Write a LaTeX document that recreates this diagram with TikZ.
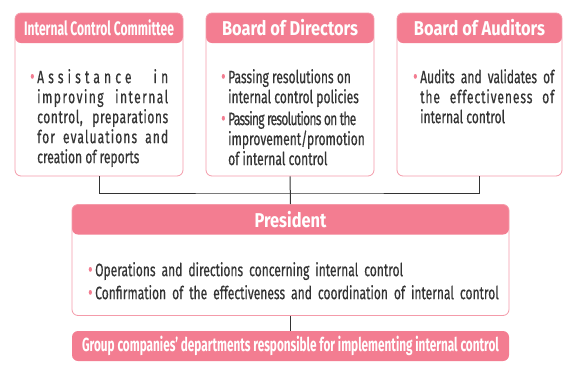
\documentclass[tikz,border=0pt]{standalone}
\usepackage{fontspec}
\setmainfont{Fira Sans}[FakeStretch=0.67, FakeBold=0.5]
\newfontfamily\hdrfont{Fira Sans}[FakeStretch=0.82]
\newfontfamily\narrowfont{Fira Sans}[FakeStretch=0.62]
\usetikzlibrary{positioning}
\definecolor{hdrpink}{RGB}{243,125,145}
\definecolor{linepink}{RGB}{244,155,170}
\definecolor{txtgrey}{RGB}{52,52,52}
\newcommand{\bul}[1]{\par\noindent\makebox[7pt][l]{\textcolor{hdrpink}{\fontsize{20}{14}\selectfont•}}%
  \parbox[t]{\dimexpr\linewidth-7pt\relax}{#1}\par}
\newcommand{\spaced}[2]{{\addfontfeature{LetterSpace=#1}#2}}
\tikzset{
  orgbox/.style={draw=linepink, fill=white, line width=0.8pt, rounded corners=6pt,
    path picture={\fill[hdrpink] (path picture bounding box.north west) rectangle ([yshift=-30pt]path picture bounding box.north east);}},
  hdr/.style={text=white, font=\hdrfont\fontsize{20}{22}\selectfont\bfseries, inner sep=0pt},
  body/.style={text=txtgrey, font=\fontsize{18}{20}\selectfont, inner sep=0pt, anchor=north west, align=justify},
  conn/.style={line width=1pt, draw=black!80},
}
\begin{document}
\begin{tikzpicture}[x=1pt,y=-1pt]
  \useasboundingbox (0,0) rectangle (563,381);
  % upper row
  \node[orgbox, minimum width=168pt, minimum height=163pt] (icc) at (99,94.5) {};
  \node[orgbox, minimum width=168pt, minimum height=163pt] (bod) at (290,94.5) {};
  \node[orgbox, minimum width=165pt, minimum height=163pt] (boa) at (479.5,94.5) {};
  \node[hdr, font=\narrowfont\fontsize{19.5}{20}\selectfont\bfseries] (icch) at ([yshift=-15pt]icc.north) {Internal Control Committee};
  \node[hdr] (bodh) at ([yshift=-15pt]bod.north) {Board of Directors};
  \node[hdr] (boah) at ([yshift=-15pt]boa.north) {Board of Auditors};

  \node[body, text width=138pt] (icct) at (30,63)
    {\bul{\spaced{23}{Assistance\hfill in}\linebreak \spaced{8}{improving internal}\linebreak
     \spaced{3}{control, preparations}\linebreak \spaced{6}{for evaluations and}\linebreak creation of reports}};
  \node[body, text width=150pt] (bodt) at (221,63)
    {\bul{Passing resolutions on\\internal control policies}\vspace{3pt}
     \bul{\spaced{-4}{Passing resolutions on the}\\improvement/promotion\\of internal control}};
  \node[body, text width=141pt] (boat) at (413,63)
    {\bul{Audits and validates of\linebreak \spaced{5}{the effectiveness of}\linebreak internal control}};

  % president
  \node[orgbox, minimum width=437pt, minimum height=111pt] (pres) at (290.5,260) {};
  \node[hdr] (presh) at ([yshift=-15pt]pres.north) {President};
  \node[body, text width=420pt, align=left] (prest) at (88,256)
    {\bul{Operations and directions concerning internal control}\vspace{3pt}
     \bul{Confirmation of the effectiveness and coordination of internal control}};

  \node[fill=hdrpink, rounded corners=6pt, minimum width=437pt, minimum height=30pt, inner sep=0pt,
        text=white, font=\narrowfont\fontsize{19}{20}\selectfont\bfseries] (grp) at (290.5,346)
    {Group companies’ departments responsible for implementing internal control};

  % connectors
  \coordinate (bar) at (290,193);
  \draw[conn] (icc.south) |- (bar) -| (boa.south);
  \draw[conn] (bod.south) -- (pres.north);
  \draw[conn] (pres.south) -- (grp.north);
\end{tikzpicture}
\end{document}
